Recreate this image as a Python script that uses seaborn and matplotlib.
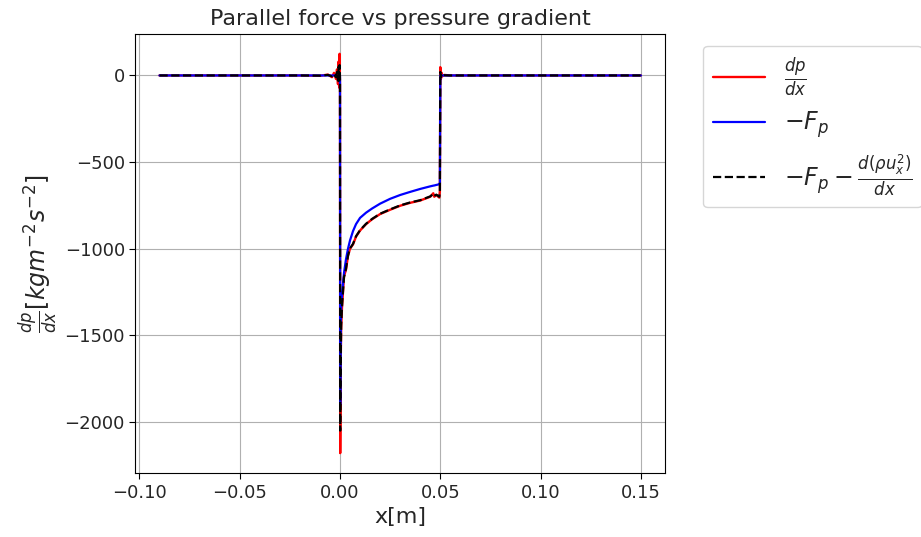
import seaborn as sns
import pandas as pd
import numpy as np
import matplotlib.pyplot as plt

# position along the channel [m]
x_pos = [-0.09, -0.05, -0.02, -0.01, -0.006, -0.004, -0.003, -0.002, -0.0015, -0.001,
         -0.0007, -0.0004, -0.0002, 0.0, 0.0001, 0.0003, 0.0006, 0.001, 0.0015, 0.002,
         0.003, 0.004, 0.005, 0.0065, 0.008, 0.01, 0.013, 0.016, 0.02, 0.025,
         0.03, 0.035, 0.04, 0.045, 0.0465, 0.047, 0.048, 0.0495, 0.0498, 0.05,
         0.0503, 0.0507, 0.051, 0.052, 0.055, 0.07, 0.1, 0.15]

# dp/dx
dpdx = [0, 0, 0, -2, 5, -10, 15, -20, 35, -50,
        80, -70, 125, -60, -2180, -1700, -1455, -1340, -1250, -1160,
        -1120, -1040, -1000, -975, -930, -895, -858, -830, -800, -775,
        -752, -735, -722, -700, -680, -700, -690, -705, -665, 48,
        -20, 15, -5, 3, 0, 0, 0, 0]

# -F_p
minus_fp = [0, 0, 0, 0, 0, 0, 0, 0, 0, 0,
            0, 0, 0, 0, -1900, -1450, -1330, -1270, -1205, -1140,
            -1060, -1000, -952, -898, -858, -822, -792, -768, -740, -712,
            -690, -672, -655, -640, -636, -635, -632, -628, -627, 0,
            0, 0, 0, 0, 0, 0, 0, 0]

# -F_p - d(rho u_x^2)/dx
minus_fp_conv = [0, 0, 0, -1, 3, -5, 8, -10, 20, -30,
                 50, -40, 60, -30, -2050, -1680, -1440, -1335, -1245, -1165,
                 -1115, -1040, -998, -972, -928, -893, -856, -828, -798, -773,
                 -750, -733, -720, -698, -684, -695, -688, -700, -668, 20,
                 -8, 6, -2, 1, 0, 0, 0, 0]

df = pd.DataFrame({"x": x_pos, "dpdx": dpdx, "fp": minus_fp, "fpc": minus_fp_conv})

sns.set_style("ticks", {"axes.grid": True})
plt.rcParams["font.family"] = ["DejaVu Sans"]
plt.rcParams["mathtext.fontset"] = "dejavusans"

fig, ax = plt.subplots(figsize=(9.21, 5.37), dpi=100)
fig.subplots_adjust(left=0.147, right=0.722, top=0.937, bottom=0.119)

sns.lineplot(data=df, x="x", y="dpdx", color="red", lw=1.7, estimator=None, sort=False,
             label=r"$\frac{dp}{dx}$", ax=ax)
sns.lineplot(data=df, x="x", y="fp", color="blue", lw=1.6, estimator=None, sort=False,
             label=r"$-F_p$", ax=ax)
sns.lineplot(data=df, x="x", y="fpc", color="black", lw=1.6, ls="--", estimator=None, sort=False,
             label=r"$-F_p - \frac{d(\rho u_x^2)}{dx}$", ax=ax)

ax.grid(True, color="#b0b0b0", lw=0.8)
for s in ax.spines.values():
    s.set_color("black")
ax.tick_params(labelsize=13, color="black", length=4)
ax.set_xticks([-0.10, -0.05, 0.0, 0.05, 0.10, 0.15])
ax.set_yticks([0, -500, -1000, -1500, -2000])
ax.set_title("Parallel force vs pressure gradient", fontsize=16)
ax.set_xlabel("x[m]", fontsize=16)
ax.set_ylabel(r"$\frac{dp}{dx}[kgm^{-2}s^{-2}]$", fontsize=17)

ax.legend(loc="upper left", bbox_to_anchor=(1.05, 1.0), fontsize=17, handlelength=2.2)

fig.savefig("out.png", dpi=100)
